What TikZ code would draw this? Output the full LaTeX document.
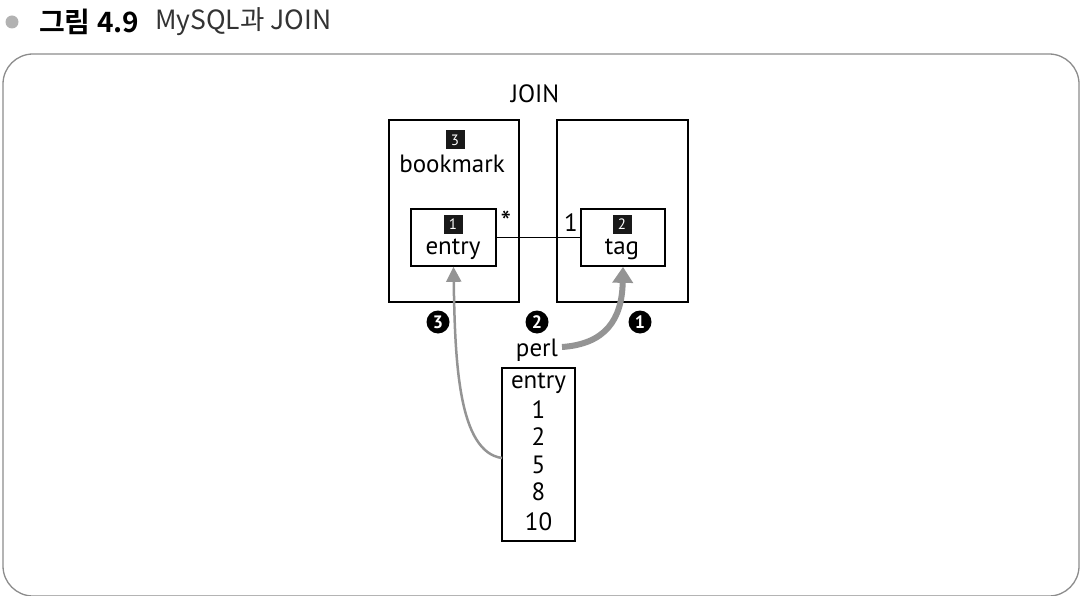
\documentclass[tikz,border=0pt]{standalone}
\usepackage{fontspec}
\setmainfont{PT Sans}
\newfontfamily\kr{Noto Sans CJK KR}
\newfontfamily\krbold{Noto Sans CJK KR Bold}
\usetikzlibrary{arrows.meta}
\definecolor{framegray}{gray}{0.55}
\definecolor{arrowgray}{gray}{0.58}
\definecolor{dotgray}{gray}{0.7}
\tikzset{
  box/.style={draw=black, line width=1.7pt},
  lbl/.style={font=\fontsize{25}{28}\selectfont, inner sep=0pt},
  tagsq/.style={fill=black!90, text=white, minimum size=19pt, inner sep=0pt,
    font=\fontsize{15}{16}\selectfont},
  stepdot/.style={circle, fill=black, text=white, minimum size=23pt, inner sep=0pt,
    font=\bfseries\fontsize{18}{19}\selectfont},
}
\begin{document}
\begin{tikzpicture}[x=1pt, y=-1pt]
\useasboundingbox (0,0) rectangle (1086,596);
% heading
\fill[dotgray] (12,22) circle (6.5);
\node[anchor=west, inner sep=0pt, font=\krbold\fontsize{28}{30}\selectfont] (fig) at (39,22) {그림 4.9};
\node[anchor=west, inner sep=0pt, text=black!80, font=\kr\fontsize{26.5}{30}\selectfont] (title) at (155,22) {MySQL과 JOIN};
% outer frame
\draw[framegray, line width=1.3pt, rounded corners=30pt] (3,54) rectangle (1079,596);

% tables
\node[lbl] (join) at (535,94) {JOIN};
\node[box, minimum width=130pt, minimum height=182pt, inner sep=0pt] (bookbox) at (454,211) {};
\node[box, minimum width=131pt, minimum height=182pt, inner sep=0pt] (tagbox) at (622.5,211) {};
\node[tagsq] (n3) at (455,140) {3};
\node[lbl] (bookmark) at (452,164) {bookmark};
\node[box, minimum width=85pt, minimum height=57pt, inner sep=0pt] (entrybox) at (453.5,237.5) {};
\node[tagsq] (n1) at (453,224) {1};
\node[lbl] (entry) at (453,249) {entry};
\node[box, minimum width=84pt, minimum height=57pt, inner sep=0pt] (tagin) at (623,237.5) {};
\node[tagsq] (n2) at (622,224) {2};
\node[lbl] (tag) at (622,249) {tag};
\draw[line width=1.7pt] (entrybox.east) -- (tagin.west);
\node[inner sep=0pt, font=\fontsize{30}{32}\selectfont] (many) at (506,222) {*};
\node[lbl] (one) at (571,223) {1};

% step markers
\node[stepdot] (s3) at (438,322) {3};
\node[stepdot] (s2) at (537,322) {2};
\node[stepdot] (s1) at (640,322) {1};
\node[lbl] (perl) at (537,350) {perl};

% result list
\node[box, minimum width=73pt, minimum height=173pt, inner sep=0pt] (list) at (538.5,454.5) {};
\node[lbl] (lh) at (538.5,383) {entry};
\node[lbl] (v1) at (538.5,410) {1};
\node[lbl] (v2) at (538.5,437) {2};
\node[lbl] (v5) at (538.5,465) {5};
\node[lbl] (v8) at (538.5,492) {8};
\node[lbl] (v10) at (538.5,522) {10};

% lookups
\coordinate (perlout) at (562,347);
\coordinate (listout) at (502,458);
\draw[arrowgray, line width=6pt, -{Triangle[length=16pt, width=20pt]}]
  (perlout) .. controls (605,344) and (622,320) .. (tagin.south);
\draw[arrowgray, line width=2.5pt, -{Triangle[length=15pt, width=15pt]}]
  (listout) .. controls (458,452) and (455,360) .. (entrybox.south);
\end{tikzpicture}
\end{document}
